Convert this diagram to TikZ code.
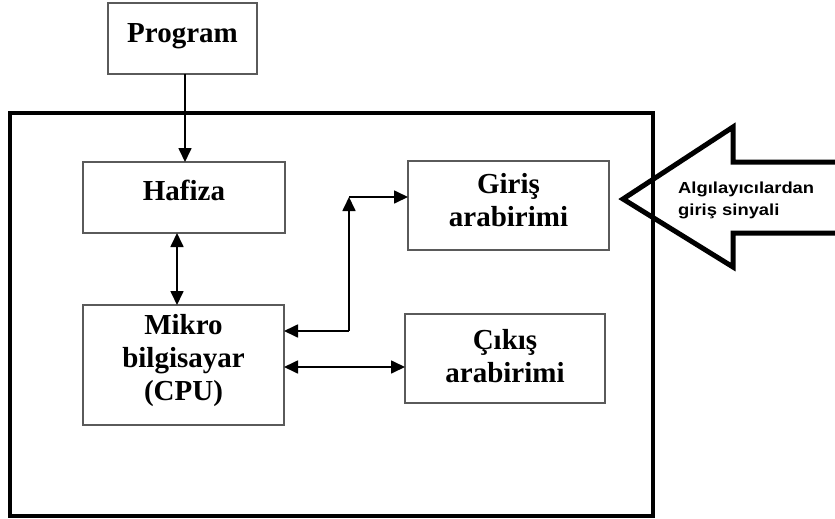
\documentclass[tikz,border=0pt]{standalone}
\usepackage{fontspec}
\setmainfont{Liberation Serif}
\newfontfamily\signalfont[FakeStretch=1.15]{Liberation Sans}
\usetikzlibrary{arrows.meta,calc}
\definecolor{boxgray}{HTML}{5A5A5A}

\begin{document}
\begin{tikzpicture}[x=1pt,y=-1pt,
  box/.style={draw=boxgray, line width=1.4pt, inner sep=0pt, outer sep=0pt},
  lbl/.style={font=\fontsize{29}{33}\selectfont\bfseries, align=center, anchor=base, inner sep=0pt},
  tip/.tip={Triangle[length=14pt,width=13pt]},
  arr/.style={line width=1.7pt, -tip},
  darr/.style={line width=1.7pt, tip-tip}]

  % canvas
  \fill[white] (0,0) rectangle (835,519);
  \useasboundingbox (0,0) rectangle (835,519);

  % microcontroller frame
  \draw[line width=3.5pt] (10,113) rectangle (653,516);

  % blocks
  \node[box, minimum width=149pt, minimum height=71pt]  (prog)  at (182.5,38.5) {};
  \node[box, minimum width=202pt, minimum height=71pt]  (haf)   at (184,197.5)  {};
  \node[box, minimum width=201pt, minimum height=120pt] (cpu)   at (183.5,365)  {};
  \node[box, minimum width=201pt, minimum height=89pt]  (giris) at (508.5,205.5) {};
  \node[box, minimum width=200pt, minimum height=89pt]  (cikis) at (505,358.5)  {};

  % block texts (base anchor sits on the last line)
  \node[lbl] (tprog)  at (182.5,43) {Program};
  \node[lbl] (thaf)   at (184,200)  {Hafiza};
  \node[lbl] (tcpu)   at (183.5,400) {Mikro\\bilgisayar\\(CPU)};
  \node[lbl] (tgiris) at (508.5,226) {Giriş\\arabirimi};
  \node[lbl] (tcikis) at (505,382) {Çıkış\\arabirimi};

  % connectors
  \coordinate (j) at (349,331);
  \coordinate (k) at (349,197);
  \coordinate (lvl) at (0,367);
  \draw[arr] ([xshift=2.5pt]prog.south) -- ([xshift=2.5pt]prog.south |- haf.north);
  \draw[darr] ([xshift=-7pt]haf.south) -- ([xshift=-7pt]haf.south |- cpu.north);
  \draw[arr] (j) -- (j -| cpu.east);
  \draw[arr] (j) -- (k);
  \draw[arr] (k) -- (k -| giris.west);
  \draw[darr] (cpu.east |- lvl) -- (cikis.west |- lvl);

  % incoming sensor signal arrow
  \draw[line width=5pt, line join=miter, miter limit=10]
    (835,162) -- (733,162) -- (733,127) -- (623,199) -- (733,267) -- (733,233) -- (835,233);
  \node[font=\signalfont\bfseries\fontsize{16}{22}\selectfont, align=left,
        anchor=base west, inner sep=0pt] (sig) at (678,215) {Algılayıcılardan\\giriş sinyali};
\end{tikzpicture}
\end{document}
